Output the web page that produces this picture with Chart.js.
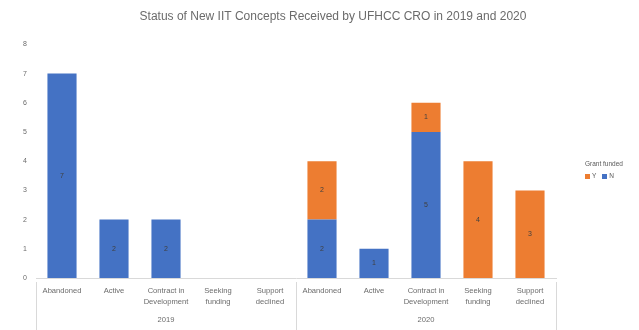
<!DOCTYPE html>
<html>
<head>
<meta charset="utf-8">
<script src="https://cdn.jsdelivr.net/npm/chart.js@4/dist/chart.umd.min.js"></script>
<style>
  html, body { margin: 0; padding: 0; background: #fff; }
  #wrap { position: relative; width: 639px; height: 330px; }
  #legend { position: absolute; left: 585px; top: 160px; font-family: "Liberation Sans", Arial, sans-serif; font-size: 6.5px; color: #595959; }
  #legend .title { margin-bottom: 5px; white-space: nowrap; }
  #legend .item { display: inline-block; margin-right: 6px; white-space: nowrap; }
  #legend .sw { display: inline-block; width: 5px; height: 5px; margin-right: 2px; vertical-align: middle; }
</style>
</head>
<body>
<div id="wrap">
  <canvas id="c" width="639" height="330"></canvas>
  <div id="legend"></div>
</div>
<script>
// Concept statuses, grouped by year
const statuses = ['Abandoned', 'Active', 'Contract in Development', 'Seeking funding', 'Support declined'];
const statusLines = [['Abandoned'], ['Active'], ['Contract in', 'Development'], ['Seeking', 'funding'], ['Support', 'declined']];
const years = ['2019', '2020'];

// Number of concepts per status, split by funding flag
const fundedN2019 = [7, 2, 2, 0, 0];
const fundedY2019 = [0, 0, 0, 0, 0];
const fundedN2020 = [2, 1, 5, 0, 0];
const fundedY2020 = [2, 0, 1, 4, 3];

const yTicks = [0, 1, 2, 3, 4, 5, 6, 7, 8];

const BLUE = '#4472C4';
const ORANGE = '#ED7D31';
const FONT = '"Liberation Sans", Arial, sans-serif';
const TEXT = '#6b6b6b';

const labels = years.flatMap(() => statusLines);
const seriesN = fundedN2019.concat(fundedN2020);
const seriesY = fundedY2019.concat(fundedY2020);

// Value labels centred inside each stacked segment
const barValues = {
  id: 'barValues',
  afterDatasetsDraw(chart) {
    const ctx = chart.ctx;
    ctx.save();
    ctx.font = '7px ' + FONT;
    ctx.fillStyle = '#404040';
    ctx.textAlign = 'center';
    ctx.textBaseline = 'middle';
    chart.data.datasets.forEach((ds, di) => {
      const meta = chart.getDatasetMeta(di);
      meta.data.forEach((bar, i) => {
        const v = ds.data[i];
        if (!v) return;
        ctx.fillText(String(v), bar.x, (bar.y + bar.base) / 2);
      });
    });
    ctx.restore();
  }
};

// Separators between the year groups in the category axis area
const groupDividers = {
  id: 'groupDividers',
  afterDraw(chart) {
    const x = chart.scales.x;
    const ctx = chart.ctx;
    const top = chart.chartArea.bottom + 4;
    const n = statuses.length;
    ctx.save();
    ctx.strokeStyle = '#d9d9d9';
    ctx.lineWidth = 1;
    for (let g = 0; g <= years.length; g++) {
      const px = Math.round(x.getPixelForValue(g * n - 0.5)) + 0.5;
      ctx.beginPath();
      ctx.moveTo(px, top);
      ctx.lineTo(px, chart.height);
      ctx.stroke();
    }
    ctx.restore();
  }
};

const chart = new Chart(document.getElementById('c'), {
  type: 'bar',
  data: {
    labels: labels,
    datasets: [
      { label: 'N', data: seriesN, backgroundColor: BLUE, stack: 's' },
      { label: 'Y', data: seriesY, backgroundColor: ORANGE, stack: 's' }
    ]
  },
  options: {
    responsive: false,
    animation: false,
    devicePixelRatio: 1,
    layout: { padding: { left: 27, right: 0, top: 0, bottom: 0 } },
    datasets: { bar: { categoryPercentage: 0.56, barPercentage: 1 } },
    plugins: {
      legend: { display: false },
      tooltip: { enabled: false },
      title: {
        display: true,
        text: 'Status of New IIT Concepts Received by UFHCC CRO in 2019 and 2020',
        color: TEXT,
        font: { family: FONT, size: 12, weight: 'normal' },
        padding: { top: 9, bottom: 21 }
      }
    },
    scales: {
      x: {
        stacked: true,
        weight: 0,
        grid: { display: false, drawTicks: false },
        border: { display: true, color: '#d9d9d9' },
        ticks: {
          color: TEXT,
          font: { family: FONT, size: 7.6, lineHeight: 1.45 },
          padding: 7,
          maxRotation: 0,
          autoSkip: false
        },
        afterFit(s) { s.height = 34; }
      },
      x2: {
        type: 'category',
        position: 'bottom',
        weight: 1,
        labels: years,
        offset: true,
        grid: { display: false, drawTicks: false },
        border: { display: false },
        ticks: { color: TEXT, font: { family: FONT, size: 7.6 }, padding: 3 },
        afterFit(s) { s.height = 18; }
      },
      y: {
        stacked: true,
        min: 0,
        max: 8,
        grid: { display: false, drawTicks: false },
        border: { display: false },
        afterBuildTicks(s) { s.ticks = yTicks.map(v => ({ value: v })); },
        // labels sit to the left of the narrow axis strip
        ticks: { color: TEXT, font: { family: FONT, size: 7 }, mirror: true, padding: -13 },
        afterFit(s) { s.width = 9; }
      },
      // empty right-hand strip reserved for the legend
      yRight: {
        type: 'linear',
        position: 'right',
        display: true,
        grid: { display: false, drawTicks: false },
        border: { display: false },
        ticks: { display: false },
        afterFit(s) { s.width = 83; }
      }
    }
  },
  plugins: [barValues, groupDividers]
});

// Legend: title plus a single row of swatches, listed Y then N
const legend = document.getElementById('legend');
const title = document.createElement('div');
title.className = 'title';
title.textContent = 'Grant funded';
legend.appendChild(title);
chart.data.datasets.slice().reverse().forEach(ds => {
  const item = document.createElement('span');
  item.className = 'item';
  const sw = document.createElement('span');
  sw.className = 'sw';
  sw.style.background = ds.backgroundColor;
  item.appendChild(sw);
  item.appendChild(document.createTextNode(ds.label));
  legend.appendChild(item);
});
</script>
</body>
</html>
